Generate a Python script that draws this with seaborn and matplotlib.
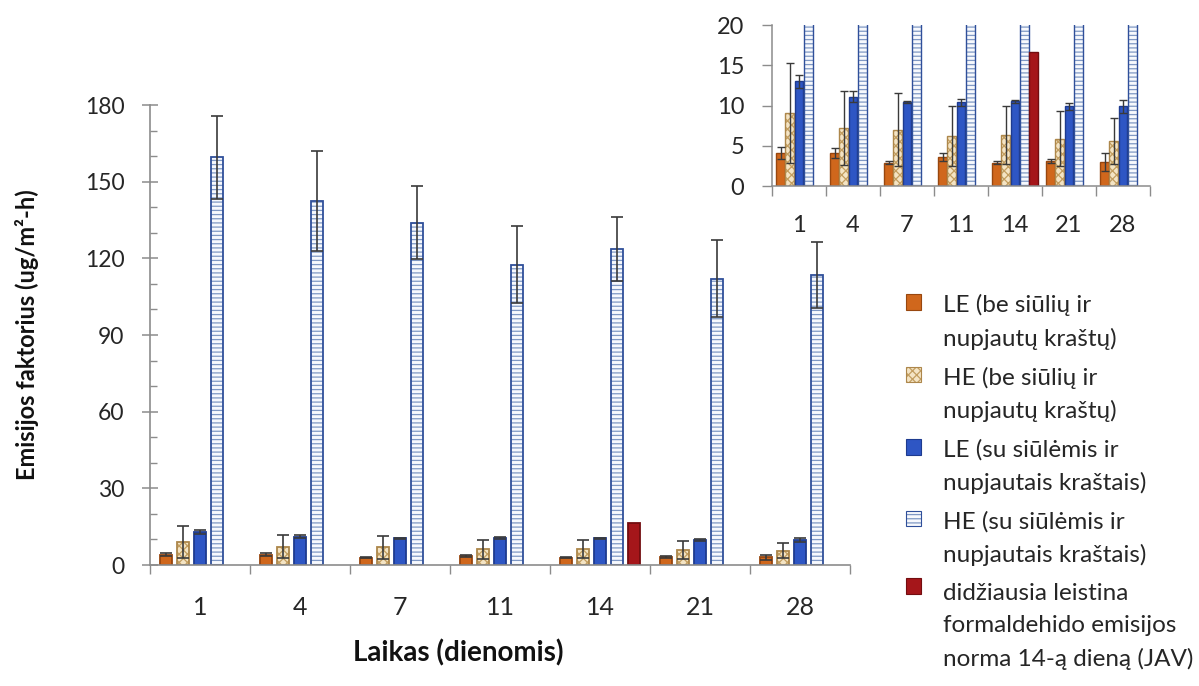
import numpy as np
import pandas as pd
import matplotlib
matplotlib.use("Agg")
import matplotlib.pyplot as plt
import matplotlib.colors as mcolors
from matplotlib.patches import Rectangle
from matplotlib.ticker import MultipleLocator, FixedLocator
from matplotlib.legend_handler import HandlerPatch
import seaborn as sns

# --- data -----------------------------------------------------------------
days = ["1", "4", "7", "11", "14", "21", "28"]

le_be = [4.1, 4.1, 2.9, 3.6, 2.9, 3.1, 3.0]
le_be_err = [0.7, 0.6, 0.2, 0.5, 0.2, 0.3, 1.1]
he_be = [9.1, 7.2, 7.0, 6.2, 6.3, 5.9, 5.6]
he_be_err = [6.2, 4.6, 4.5, 3.7, 3.6, 3.4, 2.9]
le_su = [13.0, 11.1, 10.4, 10.4, 10.5, 9.9, 9.9]
le_su_err = [0.8, 0.7, 0.1, 0.4, 0.2, 0.4, 0.8]
he_su = [159.5, 142.4, 134.0, 117.5, 123.5, 112.0, 113.5]
he_su_err = [16.3, 19.7, 14.3, 15.0, 12.5, 15.0, 12.8]

limit_day = ["14"]
limit_value = [16.6]

series_labels = [
    "LE (be siūlių ir\nnupjautų kraštų)",
    "HE (be siūlių ir\nnupjautų kraštų)",
    "LE (su siūlėmis ir\nnupjautais kraštais)",
    "HE (su siūlėmis ir\nnupjautais kraštais)",
    "didžiausia leistina\nformaldehido emisijos\nnorma 14-ą dieną (JAV)",
]

# --- long-form table ------------------------------------------------------
frames = []
for lab, vals, errs in zip(series_labels[:4],
                           [le_be, he_be, le_su, he_su],
                           [le_be_err, he_be_err, le_su_err, he_su_err]):
    frames.append(pd.DataFrame({"day": days, "value": vals, "err": errs, "series": lab}))
frames.append(pd.DataFrame({"day": limit_day, "value": limit_value, "err": [0.0], "series": series_labels[4]}))
df = pd.concat(frames, ignore_index=True)
err_lookup = {s: g.set_index("day")["err"] for s, g in df.groupby("series")}

# --- styles ---------------------------------------------------------------
styles = {
    series_labels[0]: dict(face="#d0671c", edge="#98470f", hatch=None, hcol=None),
    series_labels[1]: dict(face="#f4e4c4", edge="#ad874b", hatch="xxxx", hcol="#c39e60"),
    series_labels[2]: dict(face="#2e56c4", edge="#1e3b8f", hatch=None, hcol=None),
    series_labels[3]: dict(face="#f7f9fd", edge="#2f4f9a", hatch="----", hcol="#7f98c4"),
    series_labels[4]: dict(face="#a5161a", edge="#730d10", hatch=None, hcol=None),
}
palette = {k: v["face"] for k, v in styles.items()}

sns.set_theme(style="white")
plt.rcParams["font.family"] = ["Lato", "DejaVu Sans"]
plt.rcParams["hatch.linewidth"] = 0.9
text_col = "#262626"
spine_col = "#8c8c8c"
err_col = "#3a3a3a"

fig = plt.figure(figsize=(11.99, 6.86), dpi=100)
fig.patch.set_facecolor("white")

W, H = 1199, 686
ax = fig.add_axes([150 / W, 1 - 565 / H, 700 / W, 460 / H])
ax_in = fig.add_axes([772 / W, 1 - 186 / H, 378 / W, 161 / H])


def style_bars(axis, lw, capsize, elw):
    for cont, lab in zip(axis.containers, series_labels):
        st = styles[lab]
        for p in cont.patches:
            p.set_edgecolor(st["edge"])
            p.set_linewidth(lw)
            if st["hatch"]:
                p.set_hatch(st["hatch"])
                p._hatch_color = mcolors.to_rgba(st["hcol"])
        errs = err_lookup[lab]
        present = [d for d in days if d in errs.index]
        e = np.array([errs[d] for d in present])
        if np.all(e == 0):
            continue
        xs = [p.get_x() + p.get_width() / 2 for p in cont.patches]
        ys = [p.get_height() for p in cont.patches]
        axis.errorbar(xs, ys, yerr=e, fmt="none", ecolor=err_col,
                      elinewidth=elw, capsize=capsize, capthick=elw, zorder=5)


for axis, gap, lw, cap, elw in [(ax, 0.27, 1.3, 4, 1.2), (ax_in, 0.04, 1.0, 3, 1.0)]:
    sns.barplot(data=df, x="day", y="value", hue="series", order=days,
                hue_order=series_labels, palette=palette, width=0.85, gap=gap,
                errorbar=None, saturation=1, legend=False, ax=axis)
    style_bars(axis, lw, cap, elw)

# --- main axes ------------------------------------------------------------
ax.set_xlim(-0.5, 6.5)
ax.set_ylim(0, 180)
ax.set_yticks(np.arange(0, 181, 30))
ax.yaxis.set_minor_locator(MultipleLocator(10))
ax.xaxis.set_minor_locator(FixedLocator(np.arange(-0.5, 7, 1.0)))
for s in ["top", "right"]:
    ax.spines[s].set_visible(False)
for s in ["left", "bottom"]:
    ax.spines[s].set_color(spine_col)
    ax.spines[s].set_linewidth(1.2)
ax.tick_params(axis="y", which="major", direction="inout", length=12, width=1.1,
               color=spine_col, pad=12.5, labelsize=16.5, labelcolor=text_col, left=True)
ax.tick_params(axis="y", which="minor", direction="in", length=5, width=1.0,
               color=spine_col, left=True)
ax.tick_params(axis="x", which="major", length=0, pad=22, labelsize=18, labelcolor=text_col)
ax.tick_params(axis="x", which="minor", direction="out", length=6.5, width=1.0,
               color=spine_col, bottom=True)
ax.set_xlabel("Laikas (dienomis)", fontsize=20, fontweight="bold", color="#111111")
ax.xaxis.set_label_coords(0.44, -0.162)
ax.set_ylabel("Emisijos faktorius (ug/m²-h)", fontsize=17, fontweight="bold", color="#111111")
ax.yaxis.label.set(va="center", rotation_mode="default")
ax.yaxis.set_label_coords(-0.1757, 0.5)
ax.set_facecolor("white")

# --- inset (zoom on 0–20) -------------------------------------------------
ax_in.set_xlim(-0.5, 6.5)
ax_in.set_ylim(0, 20)
ax_in.set_yticks([0, 5, 10, 15, 20])
ax_in.xaxis.set_minor_locator(FixedLocator(np.arange(-0.5, 7, 1.0)))
for s in ["top", "right"]:
    ax_in.spines[s].set_visible(False)
for s in ["left", "bottom"]:
    ax_in.spines[s].set_color(spine_col)
    ax_in.spines[s].set_linewidth(1.1)
ax_in.tick_params(axis="y", which="major", direction="out", length=7, width=1.0,
                  color=spine_col, pad=13, labelsize=17, labelcolor=text_col, left=True)
ax_in.tick_params(axis="x", which="major", length=0, pad=21, labelsize=17, labelcolor=text_col)
ax_in.tick_params(axis="x", which="minor", direction="out", length=7, width=1.0,
                  color=spine_col, bottom=True)
ax_in.set_xlabel("")
ax_in.set_ylabel("")
ax_in.set_facecolor("none")


# --- legend ---------------------------------------------------------------
class LiftedPatchHandler(HandlerPatch):
    """Square key aligned with the first line of a multi-line label."""

    def __init__(self, lift, **kw):
        super().__init__(**kw)
        self.lift = lift

    def create_artists(self, legend, orig_handle, xdescent, ydescent,
                       width, height, fontsize, trans):
        p = Rectangle((-xdescent, -ydescent + self.lift), width, height)
        self.update_prop(p, orig_handle, legend)
        p._hatch_color = orig_handle._hatch_color
        p.set_transform(trans)
        return [p]


leg_size = 17.5
leg_linespacing = 1.65
handles = []
hmap = {}
for lab in series_labels:
    st = styles[lab]
    h = Rectangle((0, 0), 1, 1, facecolor=st["face"], edgecolor=st["edge"],
                  linewidth=0.8, hatch=st["hatch"])
    if st["hcol"]:
        h._hatch_color = mcolors.to_rgba(st["hcol"])
    n_lines = lab.count("\n") + 1
    hmap[h] = LiftedPatchHandler(lift=(n_lines - 1) * 0.62 * leg_size * leg_linespacing * 0.8)
    handles.append(h)

leg = fig.legend(handles, series_labels, handler_map=hmap, loc="upper left",
                 bbox_to_anchor=(906 / W, 1 - 294 / H), frameon=False,
                 fontsize=leg_size, handlelength=0.62, handleheight=0.62,
                 handletextpad=0.9, labelspacing=0.68, borderpad=0, borderaxespad=0)
for t in leg.get_texts():
    t.set_linespacing(leg_linespacing)
    t.set_color(text_col)

fig.savefig("out.png", dpi=100, facecolor="white")
